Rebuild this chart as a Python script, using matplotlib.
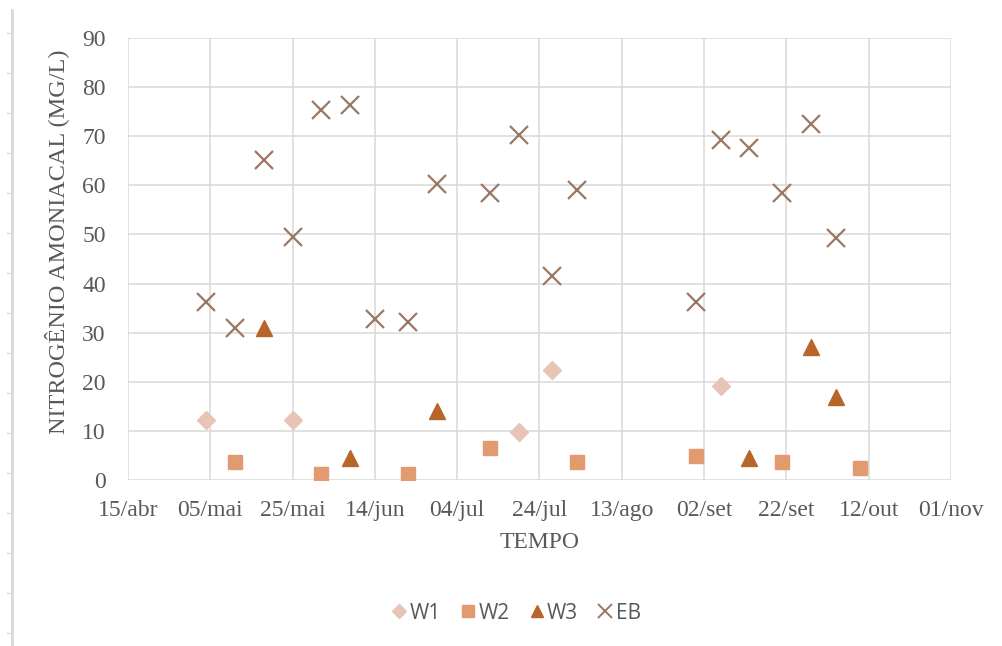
import datetime as dt
import matplotlib.pyplot as plt
from matplotlib.lines import Line2D

# Sampling dates (day/month) and ammonia nitrogen values in mg/L
w1_dates = ['04/05', '25/05', '19/07', '27/07', '06/09']
w1_vals = [12.2, 12.2, 9.9, 22.4, 19.2]

w2_dates = ['11/05', '01/06', '22/06', '12/07', '02/08', '31/08', '21/09', '10/10']
w2_vals = [3.8, 1.3, 1.3, 6.6, 3.8, 4.9, 3.8, 2.6]

w3_dates = ['18/05', '08/06', '29/06', '13/09', '28/09', '04/10']
w3_vals = [31.0, 4.5, 14.0, 4.5, 27.2, 17.0]

eb_dates = ['04/05', '11/05', '18/05', '25/05', '01/06', '08/06', '14/06', '22/06',
            '29/06', '12/07', '19/07', '27/07', '02/08', '31/08', '06/09', '13/09',
            '21/09', '28/09', '04/10']
eb_vals = [36.3, 31.0, 65.2, 49.4, 75.3, 76.4, 32.9, 32.2, 60.2, 58.5, 70.3, 41.5,
           59.0, 36.3, 69.3, 67.5, 58.5, 72.4, 49.3]

tick_dates = ['15/04', '05/05', '25/05', '14/06', '04/07', '24/07', '13/08',
              '02/09', '22/09', '12/10', '01/11']
tick_labels = ['15/abr', '05/mai', '25/mai', '14/jun', '04/jul', '24/jul', '13/ago',
               '02/set', '22/set', '12/out', '01/nov']


def to_dates(items):
    return [dt.datetime.strptime(s + '/2019', '%d/%m/%Y') for s in items]


c_w1 = '#e8c4b6'
c_w2 = '#e29a70'
c_w3 = '#b8652c'
c_eb = '#9a7862'
grey = '#595959'
serif = ['Liberation Serif', 'DejaVu Serif']

fig = plt.figure(figsize=(10.02, 6.46), dpi=100)
ax = fig.add_axes([0.1277, 0.2565, 0.8214, 0.6851])

ax.plot(to_dates(w1_dates), w1_vals, 'D', color=c_w1, ms=9, label='W1', zorder=3)
ax.plot(to_dates(w2_dates), w2_vals, 's', color=c_w2, ms=10, label='W2', zorder=3)
ax.plot(to_dates(w3_dates), w3_vals, '^', color=c_w3, ms=12, label='W3', zorder=3)
ax.plot(to_dates(eb_dates), eb_vals, 'x', color=c_eb, ms=13, mew=1.6, label='EB', zorder=3)

ticks = to_dates(tick_dates)
ax.set_xlim(ticks[0], ticks[-1])
ax.set_xticks(ticks)
ax.set_xticklabels(tick_labels)
ax.set_ylim(0, 90)
ax.set_yticks(range(0, 91, 10))

ax.grid(True, color='#d9d9d9', lw=1.1)
ax.set_axisbelow(True)
for s in ax.spines.values():
    s.set_visible(False)
ax.tick_params(length=0, labelcolor=grey, labelsize=17)
ax.tick_params(axis='x', pad=14)
ax.tick_params(axis='y', pad=16)
for lbl in ax.get_xticklabels() + ax.get_yticklabels():
    lbl.set_family(serif)

ax.set_xlabel('TEMPO', family=serif, fontsize=17, color=grey, labelpad=8)
ax.set_ylabel('NITROGÊNIO AMONIACAL (MG/L)', family=serif, fontsize=17.5, color=grey)
ax.yaxis.set_label_coords(-0.071, 0.538)

handles = [
    Line2D([], [], ls='', marker='D', color=c_w1, ms=7),
    Line2D([], [], ls='', marker='s', color=c_w2, ms=8),
    Line2D([], [], ls='', marker='^', color=c_w3, ms=9),
    Line2D([], [], ls='', marker='x', color=c_eb, ms=10, mew=1.4),
]
fig.legend(handles, ['W1', 'W2', 'W3', 'EB'], loc='center', ncol=4,
           bbox_to_anchor=(0.516, 0.051), frameon=False,
           handlelength=0.6, handletextpad=0.2, columnspacing=1.0,
           labelcolor=grey, prop={'family': 'Open Sans', 'size': 15})

# thin ruler along the left edge of the page
fig.add_artist(Line2D([12 / 1002, 12 / 1002], [0, 1 - 10 / 646],
                      transform=fig.transFigure, color='#d9d9d9', lw=2))
for y in range(33, 646, 40):
    yf = 1 - y / 646
    fig.add_artist(Line2D([7 / 1002, 12 / 1002], [yf, yf],
                          transform=fig.transFigure, color='#d9d9d9', lw=1))

fig.savefig('out.png', dpi=100)
